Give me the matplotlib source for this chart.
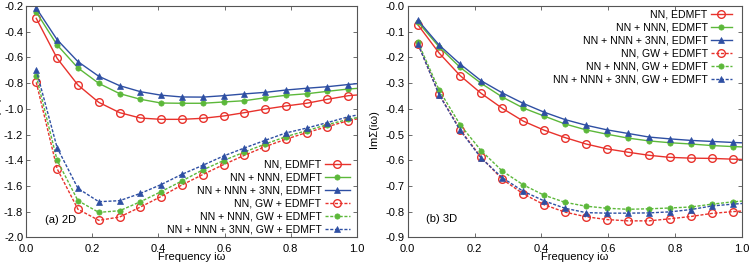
import matplotlib.pyplot as plt
import numpy as np

plt.rcParams['font.family'] = ['Liberation Sans', 'DejaVu Sans']
plt.rcParams['font.size'] = 8
plt.rcParams['axes.unicode_minus'] = False

# Matsubara frequencies (last point lies just past the axis edge)
freq = [0.031, 0.094, 0.157, 0.220, 0.283, 0.346, 0.408, 0.471, 0.534,
        0.597, 0.660, 0.723, 0.785, 0.848, 0.911, 0.974, 1.037]

labels = ['NN, EDMFT', 'NN + NNN, EDMFT', 'NN + NNN + 3NN, EDMFT',
          'NN, GW + EDMFT', 'NN + NNN, GW + EDMFT', 'NN + NNN + 3NN, GW + EDMFT']

# (a) 2D
nn_2d = [-0.296, -0.607, -0.815, -0.950, -1.030, -1.072, -1.082, -1.082, -1.074,
         -1.056, -1.030, -1.002, -0.978, -0.957, -0.926, -0.898, -0.885]
nnn_2d = [-0.247, -0.503, -0.682, -0.802, -0.882, -0.926, -0.955, -0.957, -0.957,
          -0.947, -0.937, -0.914, -0.895, -0.883, -0.864, -0.846, -0.835]
n3_2d = [-0.216, -0.462, -0.633, -0.747, -0.820, -0.867, -0.894, -0.908, -0.909,
         -0.898, -0.884, -0.872, -0.854, -0.840, -0.828, -0.811, -0.795]
nn_gw_2d = [-0.794, -1.466, -1.782, -1.868, -1.842, -1.764, -1.683, -1.593, -1.512,
            -1.434, -1.362, -1.294, -1.237, -1.185, -1.139, -1.092, -1.060]
nnn_gw_2d = [-0.745, -1.400, -1.715, -1.806, -1.793, -1.723, -1.645, -1.562, -1.476,
             -1.403, -1.336, -1.274, -1.217, -1.170, -1.123, -1.082, -1.050]
n3_gw_2d = [-0.698, -1.302, -1.619, -1.723, -1.715, -1.658, -1.590, -1.510, -1.440,
            -1.367, -1.305, -1.245, -1.188, -1.150, -1.107, -1.062, -1.030]

# (b) 3D
nn_3d = [-0.074, -0.183, -0.271, -0.340, -0.398, -0.448, -0.483, -0.512, -0.537,
         -0.556, -0.569, -0.581, -0.589, -0.592, -0.593, -0.596, -0.598]
nnn_3d = [-0.063, -0.159, -0.239, -0.301, -0.354, -0.397, -0.428, -0.459, -0.482,
          -0.499, -0.514, -0.525, -0.532, -0.537, -0.543, -0.547, -0.550]
n3_3d = [-0.056, -0.152, -0.226, -0.291, -0.338, -0.379, -0.413, -0.442, -0.464,
         -0.482, -0.496, -0.510, -0.517, -0.523, -0.527, -0.531, -0.534]
nn_gw_3d = [-0.149, -0.344, -0.481, -0.589, -0.674, -0.731, -0.773, -0.802, -0.820,
            -0.831, -0.836, -0.836, -0.828, -0.819, -0.807, -0.800, -0.795]
nnn_gw_3d = [-0.142, -0.327, -0.462, -0.563, -0.642, -0.696, -0.736, -0.764, -0.779,
             -0.787, -0.791, -0.789, -0.786, -0.782, -0.771, -0.762, -0.755]
n3_gw_3d = [-0.149, -0.345, -0.484, -0.592, -0.668, -0.721, -0.758, -0.787, -0.804,
            -0.806, -0.806, -0.805, -0.801, -0.792, -0.778, -0.771, -0.765]

red = '#e8322c'
green = '#5cb83a'
blue = '#2e4fa3'
dash = (0, (2.2, 1.2))
styles = [
    dict(color=red, ls='-', marker='o', mfc='none', ms=5.5, mew=1.0),
    dict(color=green, ls='-', marker='o', ms=3.8, mew=0.5),
    dict(color=blue, ls='-', marker='^', ms=5, mew=0.5),
    dict(color=red, ls=dash, marker='o', mfc='none', ms=5.5, mew=1.0),
    dict(color=green, ls=dash, marker='o', ms=3.8, mew=0.5),
    dict(color=blue, ls=dash, marker='^', ms=5, mew=0.5),
]

fig = plt.figure(figsize=(7.51, 2.63), dpi=100)
ax1 = fig.add_axes([0.0346, 0.0977, 0.4407, 0.8795])
ax2 = fig.add_axes([0.5429, 0.0977, 0.4447, 0.8795])

data_2d = [nn_2d, nnn_2d, n3_2d, nn_gw_2d, nnn_gw_2d, n3_gw_2d]
data_3d = [nn_3d, nnn_3d, n3_3d, nn_gw_3d, nnn_gw_3d, n3_gw_3d]

for ax, data in [(ax1, data_2d), (ax2, data_3d)]:
    for y, lab, st in zip(data, labels, styles):
        ax.plot(freq, y, lw=1.0, label=lab, **st)
    ax.set_xlim(0, 1)
    ax.set_xticks(np.arange(0, 1.01, 0.2))
    ax.set_xticklabels(['%.1f' % v for v in np.arange(0, 1.01, 0.2)])
    ax.set_xlabel('Frequency iω', labelpad=-1)
    ax.set_ylabel('ImΣ(iω)', labelpad=1)
    ax.tick_params(direction='in', top=True, right=True, length=3, width=0.6,
                   color='#555555', pad=2)
    ax.tick_params(axis='x', pad=4.5)
    for s in ax.spines.values():
        s.set_linewidth(0.8)
        s.set_color('#555555')

ax1.set_ylim(-2.0, -0.2)
ax1.set_yticks(np.arange(-2.0, -0.19, 0.2))
ax1.set_yticklabels(['%.1f' % v for v in np.arange(-2.0, -0.19, 0.2)])
ax1.yaxis.set_label_coords(-0.075, 0.53)
ax1.text(0.057, 0.075, '(a) 2D', transform=ax1.transAxes, va='center')
ax1.legend(loc='lower right', frameon=False, markerfirst=False, handlelength=2.4,
           handletextpad=0.3, labelspacing=0.28, borderpad=0, borderaxespad=0,
           bbox_to_anchor=(0.979, 0.012), fontsize=7.6)

ax2.set_ylim(-0.9, 0.0)
ax2.set_yticks(np.arange(-0.9, 0.01, 0.1))
ax2.set_yticklabels(['%.1f' % v for v in np.arange(-0.9, 0.01, 0.1)])
ax2.yaxis.set_label_coords(-0.085, 0.47)
ax2.text(0.055, 0.08, '(b) 3D', transform=ax2.transAxes, va='center')
ax2.legend(loc='upper right', frameon=False, markerfirst=False, handlelength=2.0,
           handletextpad=0.3, labelspacing=0.28, borderpad=0, borderaxespad=0,
           bbox_to_anchor=(0.971, 0.985), fontsize=7.6)

fig.savefig('out.png', dpi=100)
